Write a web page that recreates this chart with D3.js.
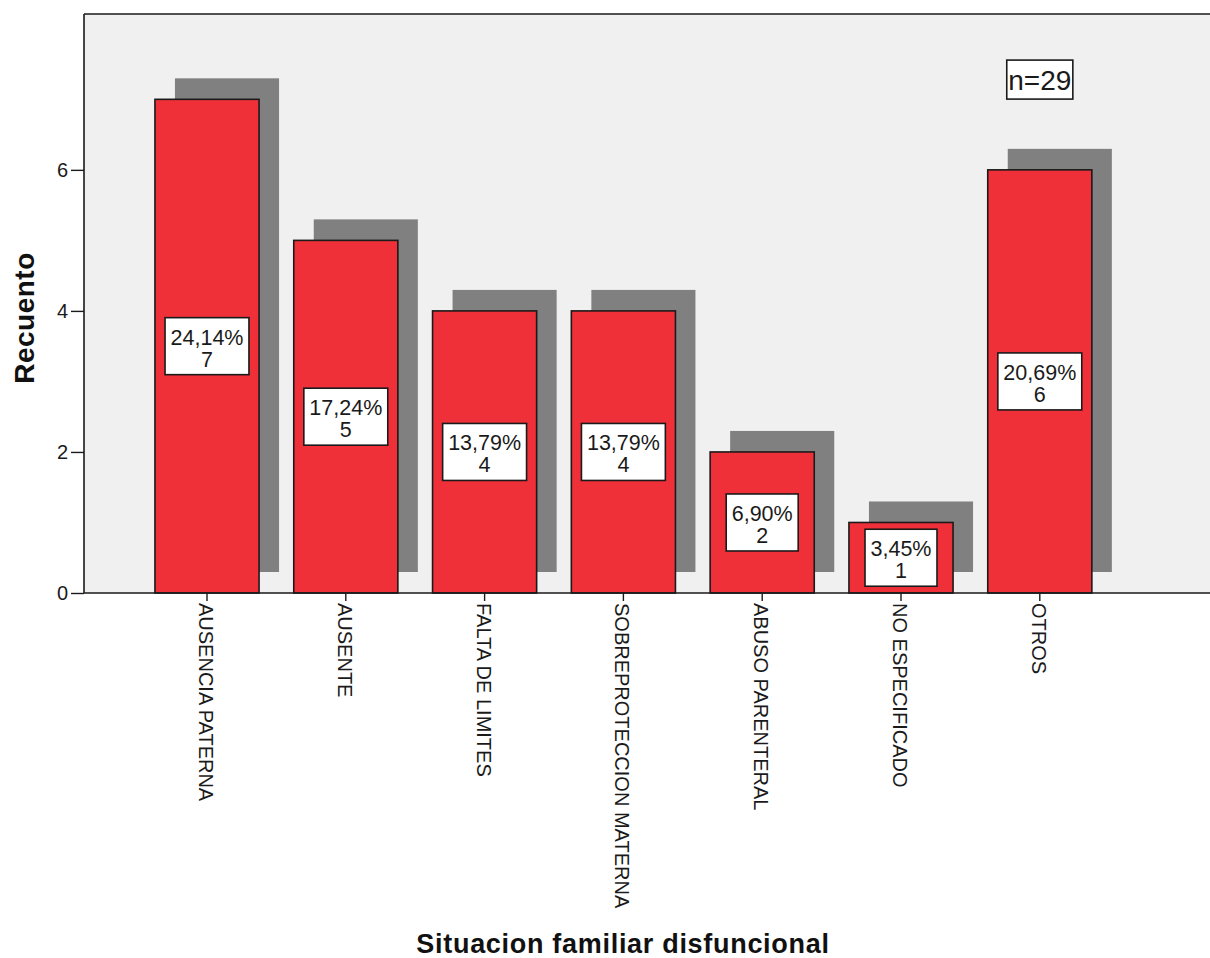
<!DOCTYPE html>
<html>
<head>
<meta charset="utf-8">
<script src="https://cdn.jsdelivr.net/npm/d3@7/dist/d3.min.js"></script>
<style>
  html, body { margin: 0; padding: 0; background: #ffffff; }
  svg { display: block; font-family: "Liberation Sans", Arial, sans-serif; }
</style>
</head>
<body>
<svg id="chart" width="1210" height="958"></svg>
<script>
// Frequency of dysfunctional family situations
const categories = [
  "AUSENCIA PATERNA",
  "AUSENTE",
  "FALTA DE LIMITES",
  "SOBREPROTECCION MATERNA",
  "ABUSO PARENTERAL",
  "NO ESPECIFICADO",
  "OTROS"
];
const counts = [7, 5, 4, 4, 2, 1, 6];
const yTicks = [0, 2, 4, 6];
const total = d3.sum(counts);

const svg = d3.select("#chart");

const plot = { left: 84, top: 14, right: 1210, bottom: 593 };

const x = d3.scaleBand()
  .domain(categories)
  .range([137.6, 1109.2])
  .paddingInner(0.25)
  .paddingOuter(0.125);

const y = d3.scaleLinear()
  .domain([0, 8.21])
  .range([plot.bottom, plot.top]);

const barColor = "#f03039";
const shadowColor = "#808080";
const shadowDx = 20, shadowDy = -21;

// plot background
svg.append("rect")
  .attr("x", plot.left).attr("y", plot.top)
  .attr("width", plot.right - plot.left)
  .attr("height", plot.bottom - plot.top)
  .attr("fill", "#f0f0f0");

const data = categories.map((c, i) => ({ cat: c, value: counts[i] }));

// drop shadows
svg.append("g").selectAll("rect")
  .data(data).join("rect")
  .attr("x", d => x(d.cat) + shadowDx)
  .attr("y", d => y(d.value) + shadowDy)
  .attr("width", x.bandwidth())
  .attr("height", d => y(0) - y(d.value))
  .attr("fill", shadowColor);

// bars
svg.append("g").selectAll("rect")
  .data(data).join("rect")
  .attr("x", d => x(d.cat))
  .attr("y", d => y(d.value))
  .attr("width", x.bandwidth())
  .attr("height", d => y(0) - y(d.value))
  .attr("fill", barColor)
  .attr("stroke", "#1a1a1a")
  .attr("stroke-width", 1.6);

// top frame line
svg.append("line")
  .attr("x1", plot.left).attr("x2", plot.right)
  .attr("y1", plot.top).attr("y2", plot.top)
  .attr("stroke", "#1a1a1a").attr("stroke-width", 1.6);

// y axis
const yAxis = svg.append("g")
  .attr("transform", `translate(${plot.left},0)`)
  .call(d3.axisLeft(y).tickValues(yTicks).tickSize(13).tickPadding(3).tickFormat(d3.format("d")));
yAxis.select(".domain").attr("d", `M0,${plot.top}V${plot.bottom}`).attr("stroke", "#1a1a1a").attr("stroke-width", 1.6);
yAxis.selectAll(".tick line").attr("stroke", "#1a1a1a").attr("stroke-width", 1.4);
yAxis.selectAll(".tick text")
  .attr("font-size", 20).attr("fill", "#1a1a1a")
  .attr("font-family", "Liberation Sans, Arial, sans-serif");

// x axis
const xAxis = svg.append("g")
  .attr("transform", `translate(0,${plot.bottom})`)
  .call(d3.axisBottom(x).tickSize(8).tickSizeOuter(0));
xAxis.select(".domain").attr("d", `M${plot.left},0H${plot.right}`).attr("stroke", "#1a1a1a").attr("stroke-width", 1.6);
xAxis.selectAll(".tick line").attr("stroke", "#1a1a1a").attr("stroke-width", 1.4);
xAxis.selectAll(".tick text")
  .attr("font-size", 20).attr("fill", "#1a1a1a")
  .attr("font-family", "Liberation Sans, Arial, sans-serif")
  .attr("text-anchor", "start")
  .attr("dy", "0.35em")
  .attr("transform", "translate(-1,10) rotate(90)")
  .attr("x", 0).attr("y", 0);

// value labels inside bars
const fmtPct = v => d3.format(".2f")(v).replace(".", ",") + "%";
const labels = svg.append("g").selectAll("g")
  .data(data).join("g")
  .attr("transform", d => `translate(${x(d.cat) + x.bandwidth() / 2},${y(d.value / 2)})`);

labels.each(function (d) {
  const g = d3.select(this);
  const box = g.append("rect")
    .attr("fill", "#ffffff")
    .attr("stroke", "#1a1a1a")
    .attr("stroke-width", 1.6);
  const t1 = g.append("text")
    .attr("text-anchor", "middle")
    .attr("font-size", 21.5).attr("fill", "#1a1a1a")
    .attr("y", -1.5)
    .text(fmtPct(d.value / total * 100));
  const t2 = g.append("text")
    .attr("text-anchor", "middle")
    .attr("font-size", 21.5).attr("fill", "#1a1a1a")
    .attr("y", 20.5)
    .text(d.value);
  const w = Math.max(t1.node().getComputedTextLength(), t2.node().getComputedTextLength()) + 11;
  box.attr("x", -w / 2).attr("y", -28.5).attr("width", w).attr("height", 57);
});

// sample size annotation
const nLabel = svg.append("g")
  .attr("transform", `translate(${x("OTROS") + x.bandwidth() / 2},${y(7.28)})`);
const nBox = nLabel.append("rect")
  .attr("fill", "#ffffff").attr("stroke", "#1a1a1a").attr("stroke-width", 1.6);
const nText = nLabel.append("text")
  .attr("text-anchor", "middle")
  .attr("font-size", 28).attr("fill", "#1a1a1a")
  .attr("y", 10)
  .text("n=" + total);
const nw = nText.node().getComputedTextLength() + 3;
nBox.attr("x", -nw / 2).attr("y", -19.5).attr("width", nw).attr("height", 39);

// axis titles
svg.append("text")
  .attr("x", 623).attr("y", 953)
  .attr("text-anchor", "middle")
  .attr("font-size", 27).attr("font-weight", "bold").attr("fill", "#111")
  .attr("letter-spacing", 0.7)
  .text("Situacion familiar disfuncional");

svg.append("text")
  .attr("transform", "translate(34,318) rotate(-90)")
  .attr("text-anchor", "middle")
  .attr("font-size", 28).attr("font-weight", "bold").attr("fill", "#111")
  .attr("letter-spacing", 0.5)
  .text("Recuento");
</script>
</body>
</html>
